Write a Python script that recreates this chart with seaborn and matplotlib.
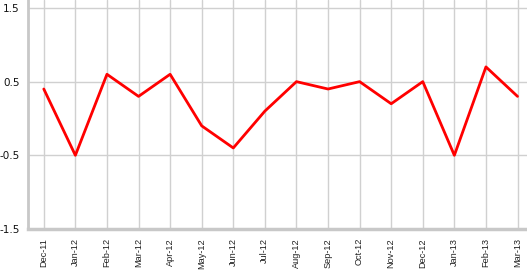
import matplotlib
matplotlib.use("Agg")
import matplotlib.pyplot as plt
import seaborn as sns
import pandas as pd

months = ["Dec-11", "Jan-12", "Feb-12", "Mar-12", "Apr-12", "May-12", "Jun-12", "Jul-12",
          "Aug-12", "Sep-12", "Oct-12", "Nov-12", "Dec-12", "Jan-13", "Feb-13", "Mar-13"]
values = [0.4, -0.5, 0.6, 0.3, 0.6, -0.1, -0.4, 0.1,
          0.5, 0.4, 0.5, 0.2, 0.5, -0.5, 0.7, 0.3]
y_ticks = [-1.5, -0.5, 0.5, 1.5]
y_labels = ["-1.5", "-0.5", "0.5", "1.5"]

df = pd.DataFrame({"month": months, "value": values, "idx": range(len(months))})

sns.set_style("white")
plt.rcParams['font.family'] = ['DejaVu Sans']

fig = plt.figure(figsize=(5.27, 2.70), dpi=100)
ax = fig.add_axes([28/527, 41/270, 1 - 28/527, 229/270])

sns.lineplot(data=df, x="idx", y="value", color="#ff0000", linewidth=2, ax=ax)

ax.set_xlim(-0.5, 15.3)
ax.set_ylim(-1.5, 1.5 + 8/74)
ax.set_xticks(range(len(months)))
ax.set_xticklabels(months, rotation=90, fontsize=6.6, family=['Liberation Sans'], color="#222222")
ax.set_yticks(y_ticks)
ax.set_yticklabels(y_labels, fontsize=7.5, color="#111111")
ax.grid(True, color="#d0d0d0", linewidth=1)
ax.set_axisbelow(True)
ax.set_xlabel("")
ax.set_ylabel("")
for s in ["top", "right"]:
    ax.spines[s].set_visible(False)
ax.spines["left"].set_color("#c8c8c8")
ax.spines["left"].set_linewidth(2)
ax.spines["bottom"].set_color("#c8c8c8")
ax.spines["bottom"].set_linewidth(2.5)
ax.tick_params(axis="x", length=4, color="#d0d0d0", width=1, pad=2.5)
ax.tick_params(axis="y", length=5, color="#c8c8c8", width=1, pad=1)

fig.savefig("out.png", dpi=100)
